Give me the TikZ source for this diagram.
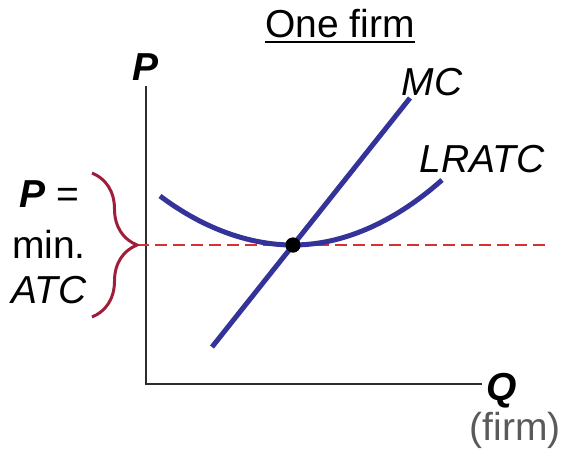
\documentclass[tikz,border=0pt]{standalone}
\usepackage{fontspec}
\setmainfont{Liberation Sans}
\usetikzlibrary{positioning, decorations.pathreplacing, calc}
\definecolor{curveblue}{RGB}{51,51,153}
\definecolor{bracered}{RGB}{160,30,60}
\definecolor{dashred}{RGB}{215,50,50}
\definecolor{axisgray}{RGB}{45,45,45}
\definecolor{notegray}{RGB}{90,90,90}

\begin{document}
\begin{tikzpicture}[x=1pt, y=-1pt,
      lbl/.style={inner sep=0pt, font=\fontsize{39}{45}\selectfont},
      axisline/.style={axisgray, line width=2.5pt},
      curve/.style={curveblue, line width=5pt},
      minline/.style={dashred, line width=2pt, dash pattern=on 12pt off 6pt},
      bracket/.style={bracered, line width=3pt, decorate, decoration={brace, amplitude=45pt}}]
    \useasboundingbox (0,0) rectangle (562,456);
    \coordinate (o) at (146,384);
    \coordinate (ytop) at (146,86);
    \coordinate (xend) at (482,384);
    \node[lbl, anchor=base] (title) at (340,37) {One firm};
    \draw[line width=2pt] ($(title.base west)+(0,5)$) -- ($(title.base east)+(0,5)$);
    \node[lbl, anchor=base] (plabel) at (146,80) {\textbf{\textit{P}}};
    \node[lbl, anchor=base] (qlabel) at (502,400) {\textbf{\textit{Q}}};
    \node[lbl, anchor=base, text=notegray] (firmlabel) at (515,440) {(firm)};
    \draw[axisline] (ytop) -- (o) -- (xend);
    \node[circle, fill=black, minimum size=15pt, inner sep=0pt] (eq) at (293,245) {};
    \coordinate (atcl) at (160,196);
    \coordinate (atcr) at (442,180);
    \coordinate (mcbot) at (212,347);
    \coordinate (mctop) at (410,98);
    \coordinate (dashend) at (548,245);
    \draw[minline] (137,245) -- (eq.center) -- (dashend);
    \draw[curve] (atcl) parabola bend (eq.center) (atcr);
    \draw[curve] (mcbot) -- (mctop);
    \fill (eq) circle (7.5pt);
    \node[lbl, anchor=base] (mclabel) at (432,95) {\textit{MC}};
    \node[lbl, anchor=base] (atclabel) at (482,172) {\textit{LRATC}};
    \draw[bracket] (92,173) -- (92,317);
    \node[lbl, align=center] (note) at (49,242) {\textbf{\textit{P}} =\\[6pt] min.\\ \textit{ATC}};
  \end{tikzpicture}
\end{document}
